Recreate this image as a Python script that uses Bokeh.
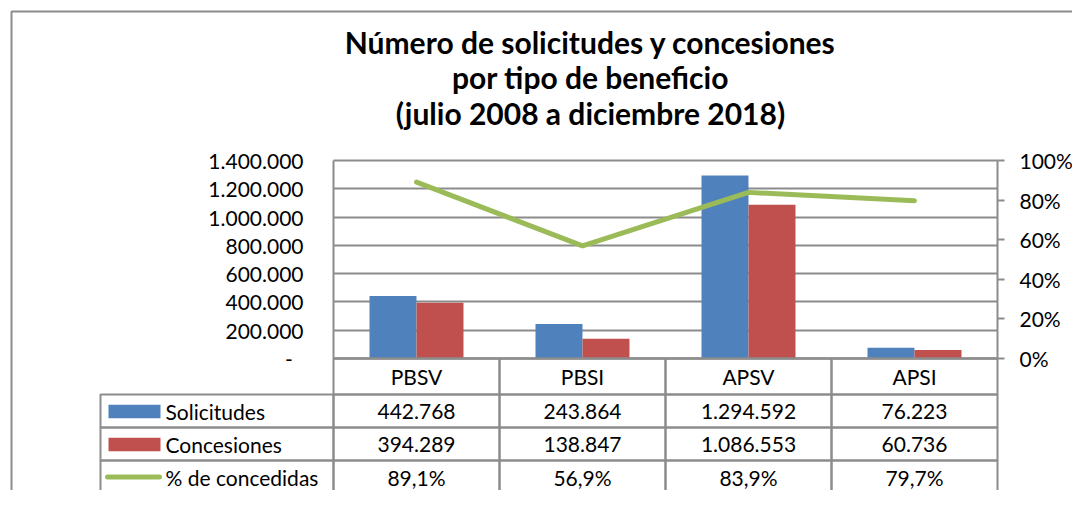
from bokeh.plotting import figure
from bokeh.models import (Range1d, LinearAxis, FixedTicker, Grid, ColumnDataSource)
from bokeh.core.properties import value
from bokeh.transform import dodge
from bokeh.embed import file_html
from bokeh.resources import INLINE

# ---------------- data ----------------
categories = ["PBSV", "PBSI", "APSV", "APSI"]
solicitudes = [442768, 243864, 1294592, 76223]
concesiones = [394289, 138847, 1086553, 60736]
pct_concedidas = [89.1, 56.9, 83.9, 79.7]
series_names = ["Solicitudes", "Concesiones", "% de concedidas"]
left_ticks = [0, 200000, 400000, 600000, 800000, 1000000, 1200000, 1400000]
right_ticks = [0, 20, 40, 60, 80, 100]
title_lines = ["Número de solicitudes y concesiones",
               "por tipo de beneficio",
               "(julio 2008 a diciembre 2018)"]

# ---------------- style ----------------
BLUE, RED, GREEN = "#4F81BD", "#C0504D", "#9BBB59"
GRAY = "#8C8C8C"
FONT = "Lato"
FS = "21px"


def miles(v):
    return f"{v:,}".replace(",", ".")


def pct_txt(v):
    return f"{v:.1f}%".replace(".", ",")


W, H = 1072, 490
MARGIN = 0  # canvas origin in page pixels
# plot area in page pixels: x 333..997, y 160..358
FX0, FX1, FY0, FY1 = 333.0, 997.0, 160.0, 358.0
CAT_W = (FX1 - FX0) / len(categories)
VMAX = left_ticks[-1]
PMAX = right_ticks[-1]


def X(px):
    return (px - FX0) / CAT_W


def Y(py):
    return (FY1 - py) * VMAX / (FY1 - FY0)


def P(py):
    return (FY1 - py) * PMAX / (FY1 - FY0)


p = figure(width=W, height=H, output_backend="svg", toolbar_location=None, tools="",
           title=None, x_axis_location=None, y_axis_location=None,
           x_range=Range1d(X(MARGIN), X(MARGIN + W)),
           y_range=Range1d(Y(MARGIN + H), Y(MARGIN)),
           min_border=0, background_fill_color="white", border_fill_color="white")
p.outline_line_color = None
p.extra_y_ranges = {"pct": Range1d(P(MARGIN + H), P(MARGIN))}
for g in p.grid:
    g.visible = False

n = len(categories)
xs = [i + 0.5 for i in range(n)]
src = ColumnDataSource(dict(x=xs, cat=categories, sol=solicitudes,
                            con=concesiones, pct=pct_concedidas))

# gridlines
grid = Grid(dimension=1, ticker=FixedTicker(ticks=left_ticks), cross_bounds=(0, n),
            grid_line_color=GRAY, grid_line_width=2)
p.add_layout(grid, "center")

# bars and line
p.vbar(x=dodge("x", -0.1416), top="sol", width=0.283, fill_color=BLUE,
       line_color=None, source=src)
p.vbar(x=dodge("x", 0.1416), top="con", width=0.283, fill_color=RED,
       line_color=None, source=src)
p.line(x="x", y="pct", y_range_name="pct", source=src, line_color=GREEN,
       line_width=5, line_cap="round", line_join="round")


def style_axis(ax):
    ax.major_tick_in = 0
    ax.minor_tick_out = 0
    ax.minor_tick_in = 0
    ax.axis_line_color = GRAY
    ax.axis_line_width = 2
    ax.major_tick_line_color = GRAY
    ax.major_tick_line_width = 2
    ax.major_label_text_font = FONT
    ax.major_label_text_font_size = FS
    ax.major_label_text_color = "black"


# left axis
ya = LinearAxis(fixed_location=0, bounds=(0, VMAX), ticker=FixedTicker(ticks=left_ticks))
style_axis(ya)
ya.major_label_overrides = {t: (miles(t) if t else "-\u00a0\u00a0") for t in left_ticks}
ya.major_tick_out = 0
ya.major_label_standoff = 30
p.add_layout(ya, "left")

# right axis
ra = LinearAxis(y_range_name="pct", fixed_location=n, bounds=(0, PMAX),
                ticker=FixedTicker(ticks=right_ticks))
style_axis(ra)
ra.major_label_overrides = {t: f"{t}%" for t in right_ticks}
ra.major_tick_out = 7
ra.major_label_standoff = 15
p.add_layout(ra, "right")

# category axis (table header)
xa = LinearAxis(fixed_location=0, bounds=(0, n), ticker=FixedTicker(ticks=xs))
style_axis(xa)
xa.major_label_overrides = {x: c for x, c in zip(xs, categories)}
xa.major_tick_out = 0
xa.major_label_standoff = 5
p.add_layout(xa, "below")

# title
p.text(x=[X(590)] * 3, y=[Y(41), Y(76), Y(112)], text=title_lines,
       text_align="center", text_baseline="middle", text_font=value(FONT),
       text_font_style="bold", text_font_size="30px", text_color="black")

# outer border
p.line(x=[X(11), X(11), X(1400)], y=[Y(900), Y(11), Y(11)], line_color=GRAY,
       line_width=2)

# data table
row_edges = [358, 394, 427, 460, 493]
lefts, rights, tops, bots = [], [], [], []
for i in range(n):
    lefts.append(i); rights.append(i + 1)
    tops.append(Y(row_edges[0])); bots.append(Y(row_edges[1]))
for r in range(3):
    t, b = Y(row_edges[r + 1]), Y(row_edges[r + 2])
    lefts.append(X(100)); rights.append(0); tops.append(t); bots.append(b)
    for i in range(n):
        lefts.append(i); rights.append(i + 1); tops.append(t); bots.append(b)
p.quad(left=lefts, right=rights, top=tops, bottom=bots, fill_color=None,
       line_color=GRAY, line_width=2)

rows = [[miles(v) for v in solicitudes],
        [miles(v) for v in concesiones],
        [pct_txt(v) for v in pct_concedidas]]
centers = [(row_edges[r + 1] + row_edges[r + 2]) / 2.0 for r in range(3)]
p.text(x=[X(165)] * 3, y=[Y(c) for c in centers], text=series_names,
       text_align="left", text_baseline="middle", text_font=value(FONT),
       text_font_size=FS, text_color="black")
cx, cy, ct = [], [], []
for r in range(3):
    for i in range(n):
        cx.append(xs[i]); cy.append(Y(centers[r])); ct.append(rows[r][i])
p.text(x=cx, y=cy, text=ct, text_align="center", text_baseline="middle",
       text_font=value(FONT), text_font_size=FS, text_color="black")

# legend keys in table
key_h = 13.5
p.quad(left=[X(108)] * 2, right=[X(160)] * 2,
       top=[Y(centers[0] - key_h / 2 + 0.5), Y(centers[1] - key_h / 2 + 0.5)],
       bottom=[Y(centers[0] + key_h / 2 + 0.5), Y(centers[1] + key_h / 2 + 0.5)],
       fill_color=[BLUE, RED], line_color=None)
p.line(x=[X(107), X(159)], y=[Y(centers[2])] * 2, line_color=GREEN, line_width=5,
       line_cap="round")

open("out.html", "w").write(file_html(p, INLINE))
